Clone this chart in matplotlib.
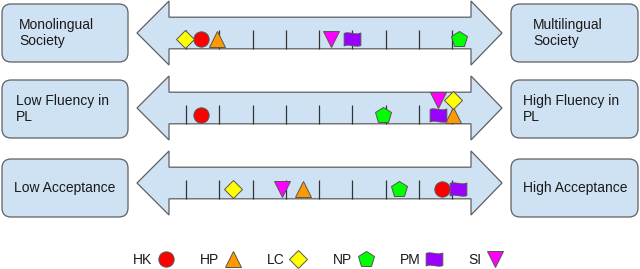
import matplotlib
matplotlib.use("Agg")
import matplotlib.pyplot as plt
from matplotlib.patches import FancyBboxPatch, Polygon
from matplotlib.path import Path
from matplotlib.lines import Line2D

plt.rcParams['font.family'] = ['Liberation Sans', 'DejaVu Sans']

# ---------------- data ----------------
groups = ["HK", "HP", "LC", "NP", "PM", "SI"]
left_labels = ["Monolingual\nSociety", "Low Fluency in\nPL", "Low Acceptance"]
right_labels = ["Multilingual\nSociety", "High Fluency in\nPL", "High Acceptance"]
# positions on a 0..8 tick scale for each row
society = [0.45, 0.93, -0.03, 8.21, 4.99, 4.36]
fluency = [0.45, 8.03, 8.03, 5.92, 7.58, 7.58]
acceptance = [7.70, 3.52, 1.41, 6.41, 8.18, 2.89]
# stacking level (0 = on the line, 1 = stacked above) for overlapping marks
fluency_stack = [0, 0, 1, 0, 0, 1]
tick_values = list(range(9))

# ---------------- styles ----------------
colors = {"HK": "#ff0000", "HP": "#ff9900", "LC": "#ffff00",
          "NP": "#00ff00", "PM": "#9900ff", "SI": "#ff00ff"}

flag = Path(
    [(-1, 0.72), (-0.45, 1.0), (0.35, 0.45), (1, 0.78),
     (1, -0.72),
     (0.35, -1.0), (-0.45, -0.45), (-1, -0.78),
     (-1, 0.72)],
    [Path.MOVETO, Path.CURVE4, Path.CURVE4, Path.CURVE4,
     Path.LINETO,
     Path.CURVE4, Path.CURVE4, Path.CURVE4,
     Path.CLOSEPOLY])
markers = {"HK": ("o", 11), "HP": ("^", 11), "LC": ("D", 9),
           "NP": ("p", 12), "PM": (flag, 12), "SI": ("v", 11)}

fill = "#cfe2f3"
edge = "#5f5f5f"

W, H = 640, 269
fig = plt.figure(figsize=(W / 100, H / 100), dpi=100)

# background (pixel coordinates) for boxes and arrows
bg = fig.add_axes([0, 0, 1, 1])
bg.set_xlim(0, W)
bg.set_ylim(H, 0)
bg.axis("off")

row_centers = [33, 108, 183]
box_centers = [33, 109, 188]
for i, c in enumerate(row_centers):
    bc = box_centers[i]
    for x0, x1 in [(2, 128), (511, 638)]:
        bg.add_patch(FancyBboxPatch((x0 + 8, bc - 21), (x1 - x0) - 16, 42,
                                    boxstyle="round,pad=8,rounding_size=9",
                                    fc=fill, ec=edge, lw=0.9))
    # arrow
    sh, hh = 15.8, 32
    pts = [(137, c), (169, c - hh), (169, c - sh), (471, c - sh), (471, c - hh),
           (502, c), (471, c + hh), (471, c + sh), (169, c + sh), (169, c + hh)]
    bg.add_patch(Polygon(pts, closed=True, fc=fill, ec=edge, lw=0.9))

# texts
text_kw = dict(fontsize=10, color="#1a1a1a", va="center", linespacing=1.25)
bg.text(19, box_centers[0], left_labels[0], ha="left", **text_kw)
bg.text(16, box_centers[1], left_labels[1], ha="left", **text_kw)
bg.text(65, box_centers[2], left_labels[2], ha="center", **text_kw)
bg.text(533, box_centers[0], right_labels[0], ha="left", **text_kw)
bg.text(523, box_centers[1], right_labels[1], ha="left", **text_kw)
bg.text(575, box_centers[2], right_labels[2], ha="center", **text_kw)

# data axes: x in tick units, y in pixels
ax = fig.add_axes([0, 0, 1, 1])
ax.patch.set_alpha(0)
x0p, step = 186, 33.25
ax.set_xlim((0 - x0p) / step, (W - x0p) / step)
ax.set_ylim(H, 0)
ax.axis("off")

for c in row_centers:
    ax.vlines(tick_values, c - 3, c + 15.8, colors="#333333", lw=0.9)

rows = [(society, [0] * 6, 6), (fluency, fluency_stack, 7), (acceptance, [0] * 6, 6)]
for (vals, stack, off), c in zip(rows, row_centers):
    for g, v, s in zip(groups, vals, stack):
        m, ms = markers[g]
        y = c + off - 15 * s
        ax.plot([v], [y], marker=m, ms=ms, mfc=colors[g], mec="#555555",
                mew=0.7, ls="none")

handles = [Line2D([], [], marker=markers[g][0], ms=markers[g][1], mfc=colors[g],
                  mec="#555555", mew=0.7, ls="none") for g in groups]
ax.legend(handles, groups, loc="center", bbox_to_anchor=(318 / W, 1 - 260 / H),
          ncol=6, frameon=False, markerfirst=False, handlelength=1.2,
          handletextpad=0.4, columnspacing=1.85, fontsize=10,
          labelcolor="#1a1a1a", borderpad=0, borderaxespad=0)

fig.savefig("out.png", dpi=100)
